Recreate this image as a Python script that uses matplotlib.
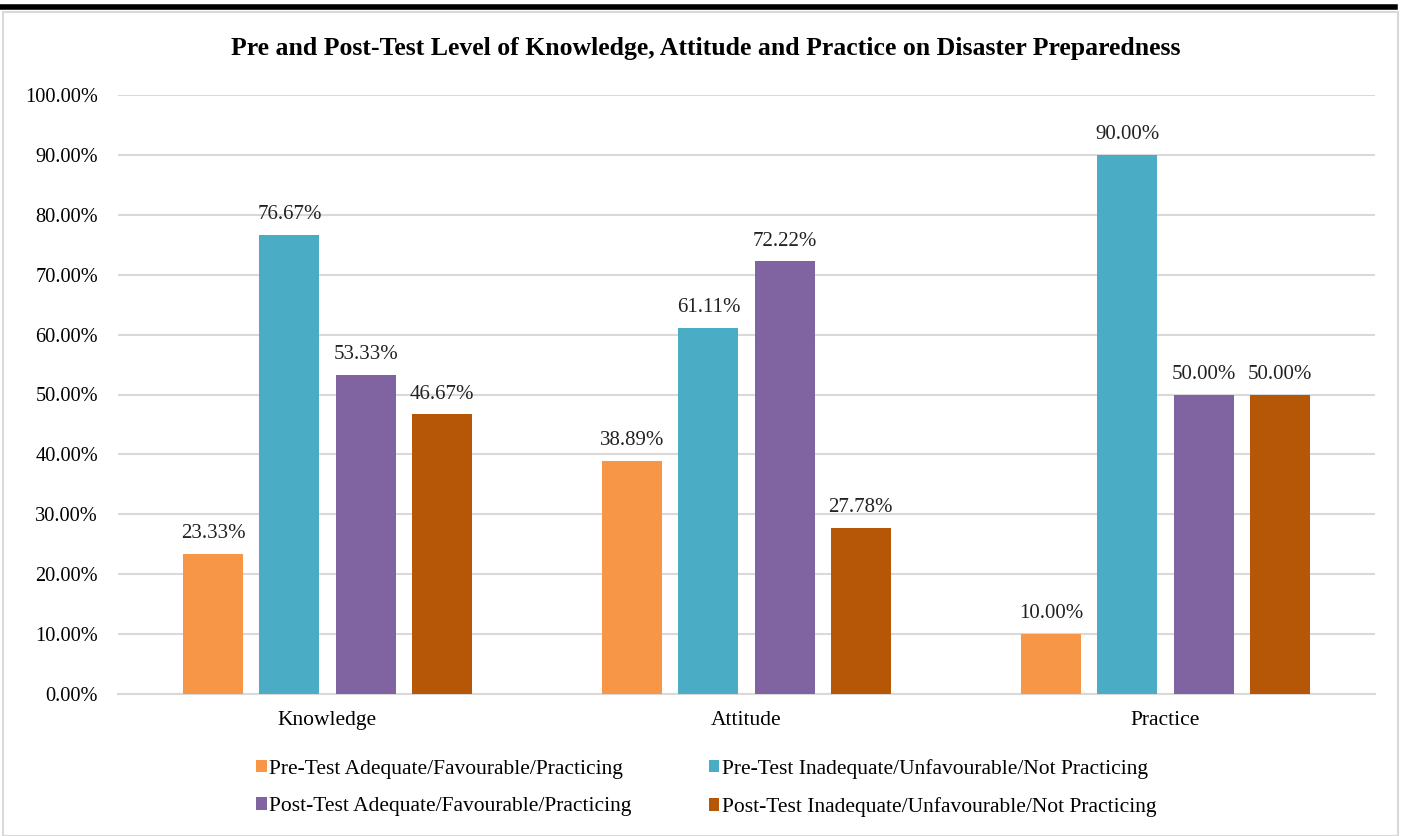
import matplotlib
matplotlib.use("Agg")
import matplotlib.pyplot as plt
import numpy as np
from matplotlib.patches import Rectangle
from matplotlib.lines import Line2D

categories = ["Knowledge", "Attitude", "Practice"]
series_names = [
    "Pre-Test Adequate/Favourable/Practicing",
    "Pre-Test Inadequate/Unfavourable/Not Practicing",
    "Post-Test Adequate/Favourable/Practicing",
    "Post-Test Inadequate/Unfavourable/Not Practicing",
]
pre_adequate = [23.33, 38.89, 10.00]
pre_inadequate = [76.67, 61.11, 90.00]
post_adequate = [53.33, 72.22, 50.00]
post_inadequate = [46.67, 27.78, 50.00]
yticks = [0, 10, 20, 30, 40, 50, 60, 70, 80, 90, 100]
colors = ["#F79646", "#4BACC6", "#8064A2", "#B65708"]

plt.rcParams['font.family'] = ['Liberation Serif', 'DejaVu Serif']

W, H = 1408, 836
fig = plt.figure(figsize=(W/100, H/100), dpi=100)

# outer chart border and top black rule
fig.patches.append(Rectangle((3/W, 0), (1398-3)/W, (H-12)/H, transform=fig.transFigure,
                             fill=False, edgecolor="#D9D9D9", linewidth=1.5))
fig.lines.append(Line2D([0, 1395/W], [1-7/H, 1-7/H], transform=fig.transFigure,
                        color="black", linewidth=4))

ax = fig.add_axes([118/W, 1-694/H, (1375-118)/W, (694-95)/H])
series = [pre_adequate, pre_inadequate, post_adequate, post_inadequate]
x = np.arange(len(categories))
width = 60/418
step = 76/418
handles = []
for i, (vals, c, name) in enumerate(zip(series, colors, series_names)):
    pos = x + (i - 1.5) * step
    bars = ax.bar(pos, vals, width=width, color=c, label=name, zorder=3)
    handles.append(bars)
    for b, v in zip(bars, vals):
        ax.text(b.get_x() + b.get_width()/2, v + 1.8, f"{v:.2f}%", ha="center", va="bottom",
                fontsize=15, color="#222222")

ax.set_xlim(-0.5, 2.5)
ax.set_ylim(0, 100)
ax.set_yticks(yticks)
ax.set_yticklabels([f"{t:.2f}%" for t in yticks], fontsize=14.7)
ax.set_xticks(x)
ax.set_xticklabels(categories, fontsize=15.5)
ax.tick_params(axis="y", length=0, pad=14.4)
ax.tick_params(axis="x", length=0, pad=12)
ax.grid(axis="y", color="#D9D9D9", linewidth=1.5, zorder=0)
for s in ["left", "right", "top"]:
    ax.spines[s].set_visible(False)
ax.spines["bottom"].set_color("#D9D9D9")
ax.spines["bottom"].set_linewidth(1.5)

fig.text(706/W, 1-48/H, "Pre and Post-Test Level of Knowledge, Attitude and Practice on Disaster Preparedness",
         ha="center", va="center", fontsize=18.5, fontweight="bold")

order = [0, 2, 1, 3]
fig.legend([handles[i] for i in order], [series_names[i] for i in order],
           loc="center", bbox_to_anchor=(706/W, 1-788/H), ncol=2, frameon=False,
           fontsize=15.5, handlelength=0.5, handleheight=0.5, handletextpad=0.1,
           columnspacing=3.6, labelspacing=0.85)

fig.savefig("out.png", dpi=100)
